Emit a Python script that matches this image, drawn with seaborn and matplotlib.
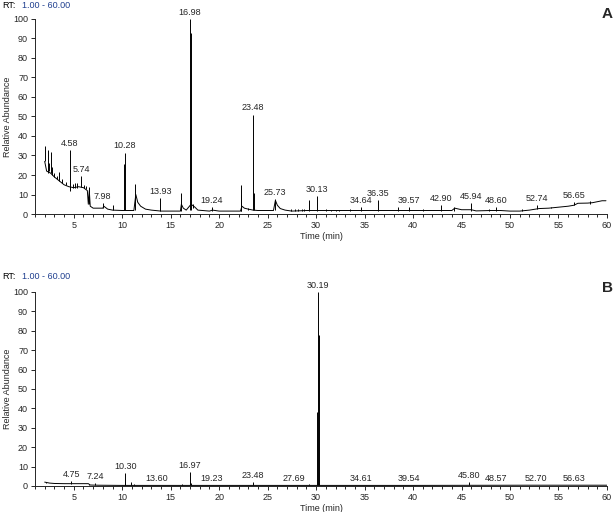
import pandas as pd
import numpy as np
import matplotlib
matplotlib.use("Agg")
import matplotlib.pyplot as plt
from matplotlib.ticker import MultipleLocator
import seaborn as sns

# Chromatogram A - baseline trace (time in min, relative abundance)
base_a_t = [2.0, 2.2, 2.6, 3.0, 3.5, 4.0, 4.5, 5.0, 5.5, 6.0, 6.4, 6.5, 6.6, 6.7, 7.0, 7.5,
            8.0, 8.1, 8.5, 9.0, 10.0, 11.2, 11.4, 11.6, 11.9, 12.4, 13.0, 14.0, 16.0, 16.1,
            16.3, 16.6, 17.1, 17.5, 17.8, 19.0, 19.3, 20.0, 22.2, 22.35, 22.6, 23.0, 23.5,
            24.0, 25.6, 25.8, 26.0, 26.3, 26.8, 27.5, 29.0, 30.0, 32.0, 36.0, 40.0, 44.0,
            44.3, 45.0, 46.0, 46.5, 48.0, 49.0, 50.0, 51.0, 52.0, 53.0, 54.0, 55.0, 56.0,
            56.6, 56.8, 57.0, 58.0, 58.5, 59.0, 59.5, 59.9]
base_a_y = [27, 22, 21, 19, 17, 15, 14, 13.5, 14, 13.5, 12, 5, 12, 4, 3, 3,
            3, 4, 2.5, 2, 1.8, 1.8, 10, 6, 4, 2.5, 2, 1.5, 1.5, 5,
            3, 2, 5, 3.5, 2, 1.5, 2, 1.5, 1.5, 4, 3, 2.5, 2,
            1.8, 1.8, 7, 4.5, 2.8, 2, 1.5, 1.8, 1.8, 1.8, 1.8, 1.8, 1.8,
            3, 2.2, 2.2, 1.6, 1.8, 1.8, 1.5, 1.5, 2, 2.8, 3.0, 3.5, 4,
            4.5, 5, 5.5, 5.6, 5.8, 6.3, 6.8, 6.8]

# Chromatogram A - sharp peaks (time, foot, apex)
peak_a_t = [2.05, 2.3, 2.45, 2.6, 2.8, 3.0, 3.3, 3.5, 3.8, 4.2, 4.58, 4.9, 5.1, 5.35,
            5.74, 6.1, 6.3, 6.55, 7.98, 9.0, 10.2, 10.28,
            11.3, 13.93, 16.05, 16.98, 17.05, 17.3, 19.24, 22.2, 22.3, 23.0, 23.48, 23.6,
            25.73, 27.4, 27.8, 28.1, 28.5, 28.8, 29.3, 30.13, 31.0, 31.5, 32.0, 32.4,
            33.5, 34.64, 36.35, 38.45, 39.57, 41.0, 42.90,
            44.2, 45.94, 47.8, 48.60, 51.2, 52.74, 54.2, 56.65, 58.3]
peak_a_base = [27, 21, 22, 21, 20, 19, 18, 17, 16, 15, 12, 13.5, 13.5, 13.5,
               14, 13.5, 13, 5, 3, 2, 2, 2,
               2, 1.5, 1.5, 2, 2, 3, 1.5, 1.5, 1.5, 2, 2, 2,
               2, 1.5, 1.5, 1.5, 1.5, 1.5, 1.5, 1.5, 1.5, 1.5, 1.5, 1.5,
               1.5, 1.5, 1.5, 1.5, 1.5, 1.5, 1.5,
               1.5, 1.5, 1.5, 1.5, 1.8, 2.5, 3, 4.5, 5]
peak_a_top = [35, 33, 26, 32, 24, 21, 19.5, 21.5, 18, 16.5, 33, 15.5, 16, 16,
              19.5, 15, 14.5, 14, 5.5, 4.5, 25.5, 31.5,
              15.5, 8, 11, 100, 93, 5, 3.5, 10, 15, 3, 51, 11,
              7.5, 2.5, 2.5, 2.5, 2.5, 2.5, 7, 9, 2.5, 2.3, 2.3, 2.3,
              2.5, 3.5, 7, 3.5, 3.5, 2.5, 4.5,
              3.5, 5.5, 2.5, 3.5, 2.8, 4.5, 3.8, 6, 6.5]

# Chromatogram A - labelled peaks
lab_a_t = [4.58, 5.74, 7.98, 10.28, 13.93, 16.98, 19.24, 23.48, 25.73, 30.13, 34.64,
           36.35, 39.57, 42.90, 45.94, 48.60, 52.74, 56.65]
lab_a_y = [33, 19.5, 5.5, 31.5, 8, 100, 3.5, 51, 7.5, 9, 3.5,
           7, 3.5, 4.5, 5.5, 3.5, 4.5, 6]

# Chromatogram B - baseline trace
base_b_t = [2.0, 2.5, 3.0, 4.0, 6.5, 6.7, 7.5, 10.0, 20.0, 30.0, 40.0, 52.0, 60.0]
base_b_y = [2, 1.5, 1.3, 1.2, 1.2, 0.5, 0.4, 0.3, 0.3, 0.3, 0.3, 0.4, 0.4]

# Chromatogram B - sharp peaks
peak_b_t = [2.1, 4.75, 6.6, 7.24, 10.25, 10.30, 10.9, 11.2, 13.60, 16.2, 16.97, 17.1,
            19.23, 23.48, 27.69, 29.3, 30.1, 30.19, 30.25, 34.61, 39.54, 45.80, 48.57,
            52.70, 56.63]
peak_b_base = [1.5, 1.2, 0.5, 0.4, 0.3, 0.3, 0.3, 0.3, 0.3, 0.3, 0.3, 0.3,
               0.3, 0.3, 0.3, 0.3, 0.3, 0.3, 0.3, 0.3, 0.3, 0.3, 0.3,
               0.4, 0.4]
peak_b_top = [2.2, 2.5, 1, 1.5, 3.5, 6.5, 2, 1, 0.6, 1, 7, 1.5,
              0.6, 2, 0.6, 1.2, 38, 100, 78, 0.6, 0.5, 2, 0.6,
              0.6, 0.6]

# Chromatogram B - labelled peaks
lab_b_t = [4.75, 7.24, 10.30, 13.60, 16.97, 19.23, 23.48, 27.69, 30.19, 34.61, 39.54,
           45.80, 48.57, 52.70, 56.63]
lab_b_y = [2.5, 1.5, 6.5, 0.6, 7, 0.6, 2, 0.6, 100, 0.6, 0.5,
           2, 0.6, 0.6, 0.6]

#########################################

sns.set_style("ticks")
plt.rcParams['font.family'] = ['Liberation Sans', 'DejaVu Sans']

fig = plt.figure(figsize=(6.15, 5.12), dpi=100)
ax_a = fig.add_axes([0.0569, 0.582, 0.930, 0.381])
ax_b = fig.add_axes([0.0569, 0.0508, 0.930, 0.379])

panels = [
    (ax_a, base_a_t, base_a_y, peak_a_t, peak_a_base, peak_a_top, lab_a_t, lab_a_y, 'A', 0.990, 0.972),
    (ax_b, base_b_t, base_b_y, peak_b_t, peak_b_base, peak_b_top, lab_b_t, lab_b_y, 'B', 0.460, 0.437),
]

for ax, bt, by, pt, pb, ptop, lt, ly, letter, rt_y, let_y in panels:
    trace = pd.DataFrame({'time': bt, 'abundance': by})
    peaks = pd.DataFrame({'time': pt, 'foot': pb, 'apex': ptop})

    sns.lineplot(data=trace, x='time', y='abundance', ax=ax, color='black',
                 linewidth=0.7, estimator=None, sort=False)
    ax.vlines(peaks['time'], peaks['foot'], peaks['apex'], color='black', linewidth=0.7)

    for t, y in zip(lt, ly):
        ax.annotate(f"{t:.2f}", (t, y), xytext=(0, 1.5), textcoords='offset points',
                    ha='center', va='bottom', fontsize=6.5, annotation_clip=False)

    ax.set_xlim(1, 60)
    ax.set_ylim(0, 100)
    ax.xaxis.set_major_locator(MultipleLocator(5))
    ax.xaxis.set_minor_locator(MultipleLocator(1))
    ax.yaxis.set_major_locator(MultipleLocator(10))
    ax.set_xticks([5, 10, 15, 20, 25, 30, 35, 40, 45, 50, 55, 60])
    ax.tick_params(axis='both', which='major', length=3, width=0.7, labelsize=6.5, pad=2)
    ax.tick_params(axis='x', which='minor', length=2, width=0.7)
    ax.set_xlabel('Time (min)', fontsize=6.5, labelpad=1.5)
    ax.set_ylabel('Relative Abundance', fontsize=6.5, labelpad=1)
    for side in ['left', 'bottom']:
        ax.spines[side].set_linewidth(0.7)
    sns.despine(ax=ax)

    fig.text(0.003, rt_y, 'RT:', fontsize=6.5, va='center', ha='left', color='black')
    fig.text(0.036, rt_y, '1.00 - 60.00', fontsize=6.5, va='center', ha='left', color='#1f3f8f')
    fig.text(0.987, let_y, letter, fontsize=11, fontweight='bold', va='center', ha='center')

fig.savefig('out.png', dpi=100)
